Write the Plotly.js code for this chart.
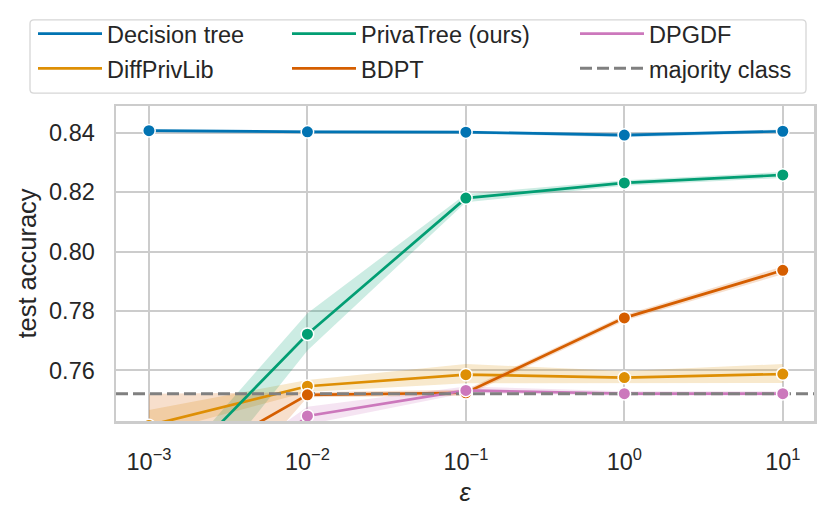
<!DOCTYPE html>
<html>
<head>
<meta charset="utf-8">
<script src="https://cdn.plot.ly/plotly-3.0.1.min.js"></script>
<style>
  html, body { margin: 0; padding: 0; background: #fff; }
  #chart { width: 830px; height: 522px; }
</style>
</head>
<body>
<div id="chart"></div>
<script>
// privacy budget values on the x axis
var epsilon = [0.001, 0.01, 0.1, 1, 10];
var epsilonLabels = ['10<sup>−3</sup>', '10<sup>−2</sup>', '10<sup>−1</sup>', '10<sup>0</sup>', '10<sup>1</sup>'];
var accuracyTicks = [0.76, 0.78, 0.80, 0.82, 0.84];

var treeMean = [0.8407, 0.8403, 0.8402, 0.8392, 0.8405];
var treeLow  = [0.8402, 0.8398, 0.8397, 0.8385, 0.8399];
var treeHigh = [0.8412, 0.8408, 0.8407, 0.8399, 0.8411];

var dplMean = [0.7415, 0.7547, 0.7586, 0.7576, 0.7588];
var dplLow  = [0.7385, 0.7528, 0.7557, 0.7558, 0.7558];
var dplHigh = [0.7467, 0.7568, 0.7622, 0.7598, 0.7622];

var privaMean = [0.7175, 0.7722, 0.8180, 0.8231, 0.8258];
var privaLow  = [0.7000, 0.7667, 0.8166, 0.8222, 0.8248];
var privaHigh = [0.7185, 0.7793, 0.8194, 0.8240, 0.8268];

var bdptMean = [0.7214, 0.7518, 0.7525, 0.7777, 0.7937];
var bdptLow  = [0.6900, 0.7510, 0.7515, 0.7767, 0.7924];
var bdptHigh = [0.7522, 0.7527, 0.7535, 0.7787, 0.7950];

var dpgdfMean = [0.7000, 0.7447, 0.7533, 0.7522, 0.7522];
var dpgdfLow  = [0.6900, 0.7418, 0.7524, 0.7515, 0.7515];
var dpgdfHigh = [0.7100, 0.7478, 0.7546, 0.7530, 0.7530];

var majorityClass = 0.7522;

var seriesNames = ['Decision tree', 'DiffPrivLib', 'PrivaTree (ours)', 'BDPT', 'DPGDF'];

var series = [
  { name: seriesNames[0], color: '#0173b2', rgb: '1,115,178',   mean: treeMean,  lo: treeLow,  hi: treeHigh,  legend: 'legend',  lw: 175 },
  { name: seriesNames[1], color: '#de8f05', rgb: '222,143,5',   mean: dplMean,   lo: dplLow,   hi: dplHigh,   legend: 'legend2', lw: 175 },
  { name: seriesNames[2], color: '#029e73', rgb: '2,158,115',   mean: privaMean, lo: privaLow, hi: privaHigh, legend: 'legend',  lw: 209 },
  { name: seriesNames[3], color: '#d55e00', rgb: '213,94,0',    mean: bdptMean,  lo: bdptLow,  hi: bdptHigh,  legend: 'legend2', lw: 209 },
  { name: seriesNames[4], color: '#cc78bc', rgb: '204,120,188', mean: dpgdfMean, lo: dpgdfLow, hi: dpgdfHigh, legend: 'legend',  lw: 0 }
];

var xRange = [-3.208, 1.197];
var yRange = [0.743, 0.849];
var textColor = '#262626';
var gridColor = '#cccccc';
var fontFamily = '"Liberation Sans", Arial, sans-serif';

// plot area in pixels, used to place the legend box
var M = { l: 116, r: 16, t: 103, b: 101 };
var W = 830, H = 522;
var plotW = W - M.l - M.r, plotH = H - M.t - M.b;
function px(x) { return (x - M.l) / plotW; }
function py(y) { return (H - M.b - y) / plotH; }

var traces = [];

// confidence bands
series.forEach(function(s) {
  traces.push({
    x: epsilon, y: s.lo, type: 'scatter', mode: 'lines',
    line: { width: 0, color: s.color }, showlegend: false, hoverinfo: 'skip'
  });
  traces.push({
    x: epsilon, y: s.hi, type: 'scatter', mode: 'lines', fill: 'tonexty',
    fillcolor: 'rgba(' + s.rgb + ',0.2)',
    line: { width: 0, color: s.color }, showlegend: false, hoverinfo: 'skip'
  });
});

// mean lines (these carry the legend)
series.forEach(function(s) {
  traces.push({
    x: epsilon, y: s.mean, type: 'scatter', mode: 'lines', name: s.name,
    line: { width: 2.7, color: s.color }, legend: s.legend, legendwidth: s.lw
  });
});

traces.push({
  x: [Math.pow(10, xRange[0]), Math.pow(10, xRange[1])],
  y: [majorityClass, majorityClass],
  type: 'scatter', mode: 'lines', name: 'majority class',
  line: { width: 3, color: '#808080', dash: '12px,5px' },
  legend: 'legend2', hoverinfo: 'skip'
});

// markers on top
series.forEach(function(s) {
  traces.push({
    x: epsilon, y: s.mean, type: 'scatter', mode: 'markers', showlegend: false,
    marker: { size: 12.5, color: s.color, line: { width: 1.5, color: '#ffffff' } },
    cliponaxis: true, hovertemplate: s.name + ': %{y:.4f}<extra></extra>'
  });
});

var legendBase = {
  orientation: 'h',
  traceorder: 'normal',
  xanchor: 'left',
  yanchor: 'top',
  x: px(33),
  bgcolor: 'rgba(0,0,0,0)',
  borderwidth: 0,
  itemwidth: 64,
  font: { size: 23.5, color: textColor, family: fontFamily }
};

var r = 4;
var bx0 = 30, bx1 = 806, by0 = 16, by1 = 90;
var boxPath =
  'M' + px(bx0 + r) + ',' + py(by0) +
  ' L' + px(bx1 - r) + ',' + py(by0) +
  ' Q' + px(bx1) + ',' + py(by0) + ' ' + px(bx1) + ',' + py(by0 + r) +
  ' L' + px(bx1) + ',' + py(by1 - r) +
  ' Q' + px(bx1) + ',' + py(by1) + ' ' + px(bx1 - r) + ',' + py(by1) +
  ' L' + px(bx0 + r) + ',' + py(by1) +
  ' Q' + px(bx0) + ',' + py(by1) + ' ' + px(bx0) + ',' + py(by1 - r) +
  ' L' + px(bx0) + ',' + py(by0 + r) +
  ' Q' + px(bx0) + ',' + py(by0) + ' ' + px(bx0 + r) + ',' + py(by0) + ' Z';

var axisBase = {
  showline: true,
  mirror: true,
  linecolor: gridColor,
  linewidth: 2.5,
  showgrid: true,
  gridcolor: gridColor,
  gridwidth: 2,
  zeroline: false,
  ticks: '',
  color: textColor,
  tickfont: { size: 23.5, color: textColor, family: fontFamily }
};

var layout = {
  width: W,
  height: H,
  autosize: false,
  margin: M,
  paper_bgcolor: '#ffffff',
  plot_bgcolor: '#ffffff',
  font: { family: fontFamily, color: textColor },
  showlegend: true,
  xaxis: Object.assign({}, axisBase, {
    type: 'log',
    range: xRange,
    tickmode: 'array',
    tickvals: epsilon,
    ticktext: epsilonLabels,
    ticklabelstandoff: 18,
    title: { text: '<i>ε</i>', font: { size: 25.5, color: textColor, family: fontFamily }, standoff: 10 }
  }),
  yaxis: Object.assign({}, axisBase, {
    range: yRange,
    tickmode: 'array',
    tickvals: accuracyTicks,
    tickformat: '.2f',
    ticklabelstandoff: 14,
    title: { text: 'test accuracy', font: { size: 25.5, color: textColor, family: fontFamily }, standoff: 5 }
  }),
  legend: Object.assign({}, legendBase, { y: py(8) }),
  legend2: Object.assign({}, legendBase, { y: py(43) }),
  shapes: [{
    type: 'path', xref: 'paper', yref: 'paper', path: boxPath,
    line: { color: '#d6d6d6', width: 1.3 }, fillcolor: '#ffffff', layer: 'below'
  }]
};

Plotly.newPlot('chart', traces, layout, { displayModeBar: false, staticPlot: true });
</script>
</body>
</html>
